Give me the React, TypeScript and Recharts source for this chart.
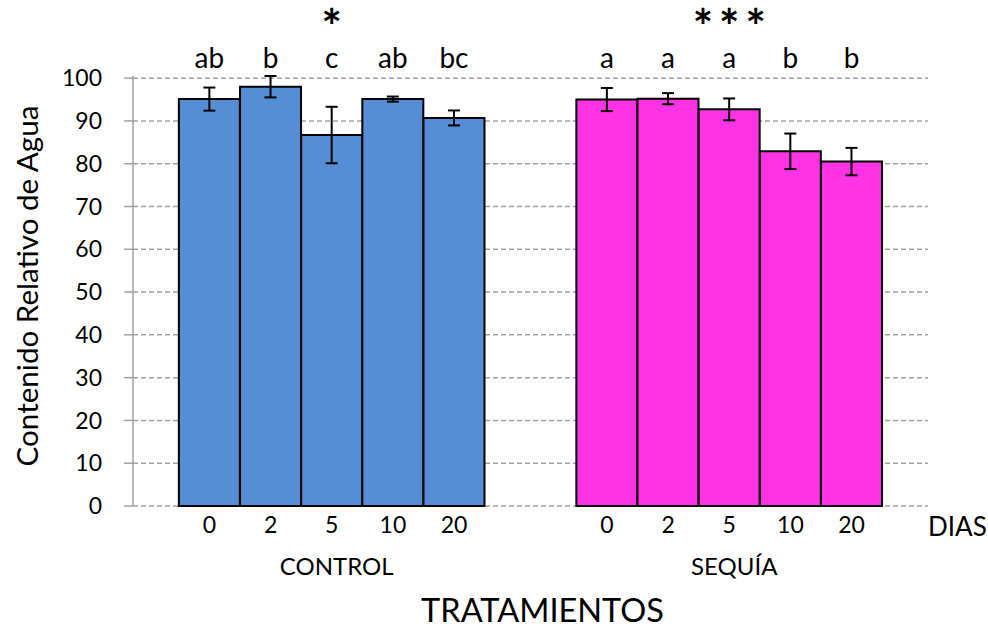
import React from 'react';
import {
  BarChart,
  Bar,
  XAxis,
  YAxis,
  CartesianGrid,
  ErrorBar,
  Cell,
  LabelList,
  ReferenceDot,
} from 'recharts';

// ---- data ----
const days = ['0', '2', '5', '10', '20'];
const groups = ['CONTROL', 'SEQUÍA'];
const groupSignif = ['*', '***'];
const groupColors = ['#558ED5', '#FF33E3'];

const controlValues = [95.1, 98.0, 86.7, 95.1, 90.7];
const controlErrors = [2.7, 2.5, 6.6, 0.6, 1.75];
const controlLetters = ['ab', 'b', 'c', 'ab', 'bc'];

const sequiaValues = [95.0, 95.2, 92.7, 82.9, 80.5];
const sequiaErrors = [2.7, 1.3, 2.55, 4.15, 3.2];
const sequiaLetters = ['a', 'a', 'a', 'b', 'b'];

const yTicks = [0, 10, 20, 30, 40, 50, 60, 70, 80, 90, 100];

const xUnitLabel = 'DIAS';
const xTitle = 'TRATAMIENTOS';
const yTitle = 'Contenido Relativo de Agua';

// ---- layout constants ----
const GROUP_STEP = 6.5;
const X_DOMAIN: [number, number] = [-1.25, 11.75];
const FONT = "Lato, 'Open Sans', sans-serif";

const seriesByGroup = [
  { values: controlValues, errors: controlErrors, letters: controlLetters },
  { values: sequiaValues, errors: sequiaErrors, letters: sequiaLetters },
];

const data = seriesByGroup.flatMap((s, g) =>
  days.map((d, i) => ({
    pos: g * GROUP_STEP + i,
    day: d,
    group: g,
    value: s.values[i],
    err: s.errors[i],
    letter: s.letters[i],
  }))
);

const groupCenters = groups.map((_, g) => g * GROUP_STEP + (days.length - 1) / 2);

const LetterLabel = (props: any) => {
  const { x, width, value } = props;
  return (
    <text
      x={Number(x) + Number(width) / 2}
      y={68}
      textAnchor="middle"
      fontFamily={FONT}
      fontSize={28}
      fill="#000"
    >
      {value}
    </text>
  );
};

const YTitle = (props: any) => {
  const vb = props.viewBox || { x: 0, y: 76, width: 133, height: 430 };
  const cx = vb.x + 26;
  const cy = vb.y + vb.height / 2 - 5;
  return (
    <text
      x={cx}
      y={cy}
      transform={`rotate(-90 ${cx} ${cy})`}
      textAnchor="middle"
      dominantBaseline="central"
      fontFamily={FONT}
      fontSize={29.6}
      fill="#000"
    >
      {yTitle}
    </text>
  );
};

const XLabels = (props: any) => {
  const vb = props.viewBox;
  return (
    <g>
      <text
        x={vb.x + vb.width}
        y={vb.y + 20}
        textAnchor="start"
        dominantBaseline="central"
        fontFamily={FONT}
        fontSize={26}
        fill="#000"
      >
        {xUnitLabel}
      </text>
      <text
        x={vb.x + vb.width / 2 + 12}
        y={vb.y + 103}
        textAnchor="middle"
        dominantBaseline="central"
        fontFamily={FONT}
        fontSize={32.5}
        fill="#000"
      >
        {xTitle}
      </text>
    </g>
  );
};

const makeGroupLabel = (name: string, sig: string) => (props: any) => {
  const vb = props.viewBox;
  const cx = vb.x + (vb.width || 0) / 2;
  const cy = vb.y + (vb.height || 0) / 2;
  return (
    <g>
      <text
        x={cx + 5}
        y={cy + 59}
        textAnchor="middle"
        dominantBaseline="central"
        fontFamily={FONT}
        fontSize={24}
        fill="#000"
      >
        {name}
      </text>
      <text
        x={cx + 3}
        y={44}
        textAnchor="middle"
        fontFamily={FONT}
        fontSize={48}
        fontWeight={700}
        letterSpacing={6}
        fill="#000"
      >
        {sig}
      </text>
    </g>
  );
};

export default function App() {
  return (
    <div
      style={{
        position: 'absolute',
        left: 0,
        top: 0,
        width: 988,
        height: 629,
        background: '#fff',
      }}
    >
      <BarChart
        width={988}
        height={629}
        data={data}
        margin={{ top: 76, right: 60, bottom: 43, left: 0 }}
        barCategoryGap={0}
        barGap={0}
      >
        <CartesianGrid
          vertical={false}
          syncWithTicks
          stroke="#A0A0A0"
          strokeDasharray="5 3"
          strokeWidth={1.5}
        />
        <XAxis
          dataKey="pos"
          type="number"
          domain={X_DOMAIN}
          ticks={data.map((d) => d.pos)}
          interval={0}
          tickFormatter={(v: number) => {
            const d = data.find((e) => Math.abs(e.pos - v) < 1e-6);
            return d ? d.day : '';
          }}
          axisLine={false}
          tickLine={false}
          tickSize={0}
          tickMargin={11}
          height={80}
          tick={{ fontFamily: FONT, fontSize: 23, fill: '#000' }}
          label={{ content: XLabels }}
          allowDataOverflow
        />
        <YAxis
          type="number"
          domain={[0, 100]}
          ticks={yTicks}
          interval={0}
          width={133}
          tickSize={9}
          tickMargin={22}
          axisLine={{ stroke: '#A0A0A0', strokeWidth: 1.5 }}
          tickLine={{ stroke: '#A0A0A0', strokeWidth: 1.5 }}
          tick={{ fontFamily: FONT, fontSize: 23, fill: '#000' }}
          label={{ content: YTitle }}
        />
        <Bar
          dataKey="value"
          barSize={61}
          stroke="#000"
          strokeWidth={2}
          isAnimationActive={false}
        >
          {data.map((d, i) => (
            <Cell key={i} fill={groupColors[d.group]} />
          ))}
          <ErrorBar
            dataKey="err"
            width={6}
            stroke="#000"
            strokeWidth={2}
            isAnimationActive={false}
          />
          <LabelList dataKey="letter" content={LetterLabel} />
        </Bar>
        {groupCenters.map((c, g) => (
          <ReferenceDot
            key={g}
            x={c}
            y={0}
            r={0}
            fill="none"
            stroke="none"
            ifOverflow="visible"
            label={{ content: makeGroupLabel(groups[g], groupSignif[g]) }}
          />
        ))}
      </BarChart>
    </div>
  );
}
